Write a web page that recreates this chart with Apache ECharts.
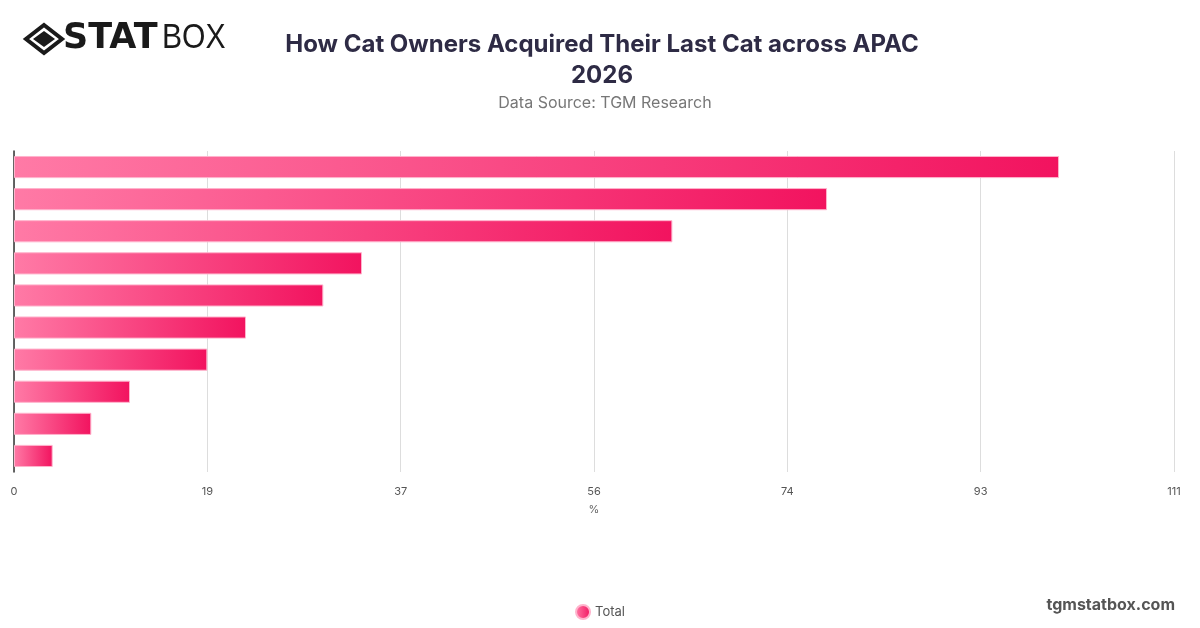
<!DOCTYPE html>
<html>
<head>
<meta charset="utf-8">
<script src="https://cdn.jsdelivr.net/npm/echarts@6/dist/echarts.min.js"></script>
<style>html,body{margin:0;padding:0;background:#fff;}#c{width:1200px;height:628px;}</style>
</head>
<body>
<div id="c"></div>
<script>
var categories = ['Adopted from a shelter','Taken in a stray','From a friend or family','Bought from a breeder','Bought from a pet shop','Born to my own cat','Found online','From a rescue group','Given as a gift','Other'];
var values = [100, 77.8, 63.0, 33.3, 29.6, 22.2, 18.5, 11.1, 7.4, 3.7];
var seriesName = 'Total';
var axisMax = 111;
var axisInterval = 18.5;

var chart = echarts.init(document.getElementById('c'));
var grad = new echarts.graphic.LinearGradient(0, 0, 1, 0, [
  {offset: 0, color: '#ff7aa6'},
  {offset: 1, color: '#f2135f'}
]);
chart.setOption({
  backgroundColor: '#fff',
  animation: false,
  title: [{
    text: 'How Cat Owners Acquired Their Last Cat across APAC\n2026',
    left: 597, top: 24, textAlign: 'center',
    textStyle: {fontFamily: 'Inter', fontWeight: 'bold', fontSize: 24, color: '#2e2b45', lineHeight: 31}
  }, {
    text: 'Data Source: TGM Research',
    left: 600, top: 90, textAlign: 'center',
    textStyle: {fontFamily: 'Inter', fontWeight: 'normal', fontSize: 16, color: '#777'}
  }],
  legend: {
    bottom: 3, left: 'center',
    icon: 'circle', itemWidth: 14, itemHeight: 14,
    textStyle: {fontFamily: 'Inter', fontSize: 13, color: '#555'},
    data: [seriesName]
  },
  grid: {left: 14, right: 26, top: 151, bottom: 156, containLabel: false},
  xAxis: {
    type: 'value', min: 0, max: axisMax, interval: axisInterval,
    name: '%', nameLocation: 'middle', nameGap: 32,
    nameTextStyle: {fontFamily: 'Inter', fontSize: 11, color: '#666'},
    axisLine: {show: false}, axisTick: {show: false},
    axisLabel: {fontFamily: 'Inter', fontSize: 11, color: '#555', margin: 14,
      formatter: function (v) { return Math.round(v); }},
    splitLine: {show: true, lineStyle: {color: '#ddd', width: 1}}
  },
  yAxis: {
    type: 'category', data: categories, inverse: true,
    axisLine: {show: true, lineStyle: {color: '#333', width: 1.5}},
    axisTick: {show: false},
    axisLabel: {show: false},
    splitLine: {show: false}
  },
  series: [{
    name: seriesName, type: 'bar', data: values,
    barCategoryGap: '31%',
    itemStyle: {color: grad, borderColor: '#ffb3cc', borderWidth: 1}
  }],
  graphic: [
    {type: 'polygon', shape: {points: [[44, 25], [62, 39], [44, 53], [26, 39]]},
     style: {fill: 'none', stroke: '#1a1a1a', lineWidth: 4}},
    {type: 'polygon', shape: {points: [[44, 31], [55, 39], [44, 47], [33, 39]]},
     style: {fill: '#1a1a1a'}},
    {type: 'text', x: 63, y: 21,
     style: {text: 'STAT', font: 'bold 35px "DejaVu Sans"', fill: '#1a1a1a'}},
    {type: 'text', x: 162, y: 21, scaleX: 0.86,
     style: {text: 'BOX', font: 'normal 35px "Liberation Sans"', fill: '#1a1a1a'}},
    {type: 'text', right: 25, top: 597,
     style: {text: 'tgmstatbox.com', font: 'bold 16px Inter', fill: '#555'}}
  ]
});
</script>
</body>
</html>
